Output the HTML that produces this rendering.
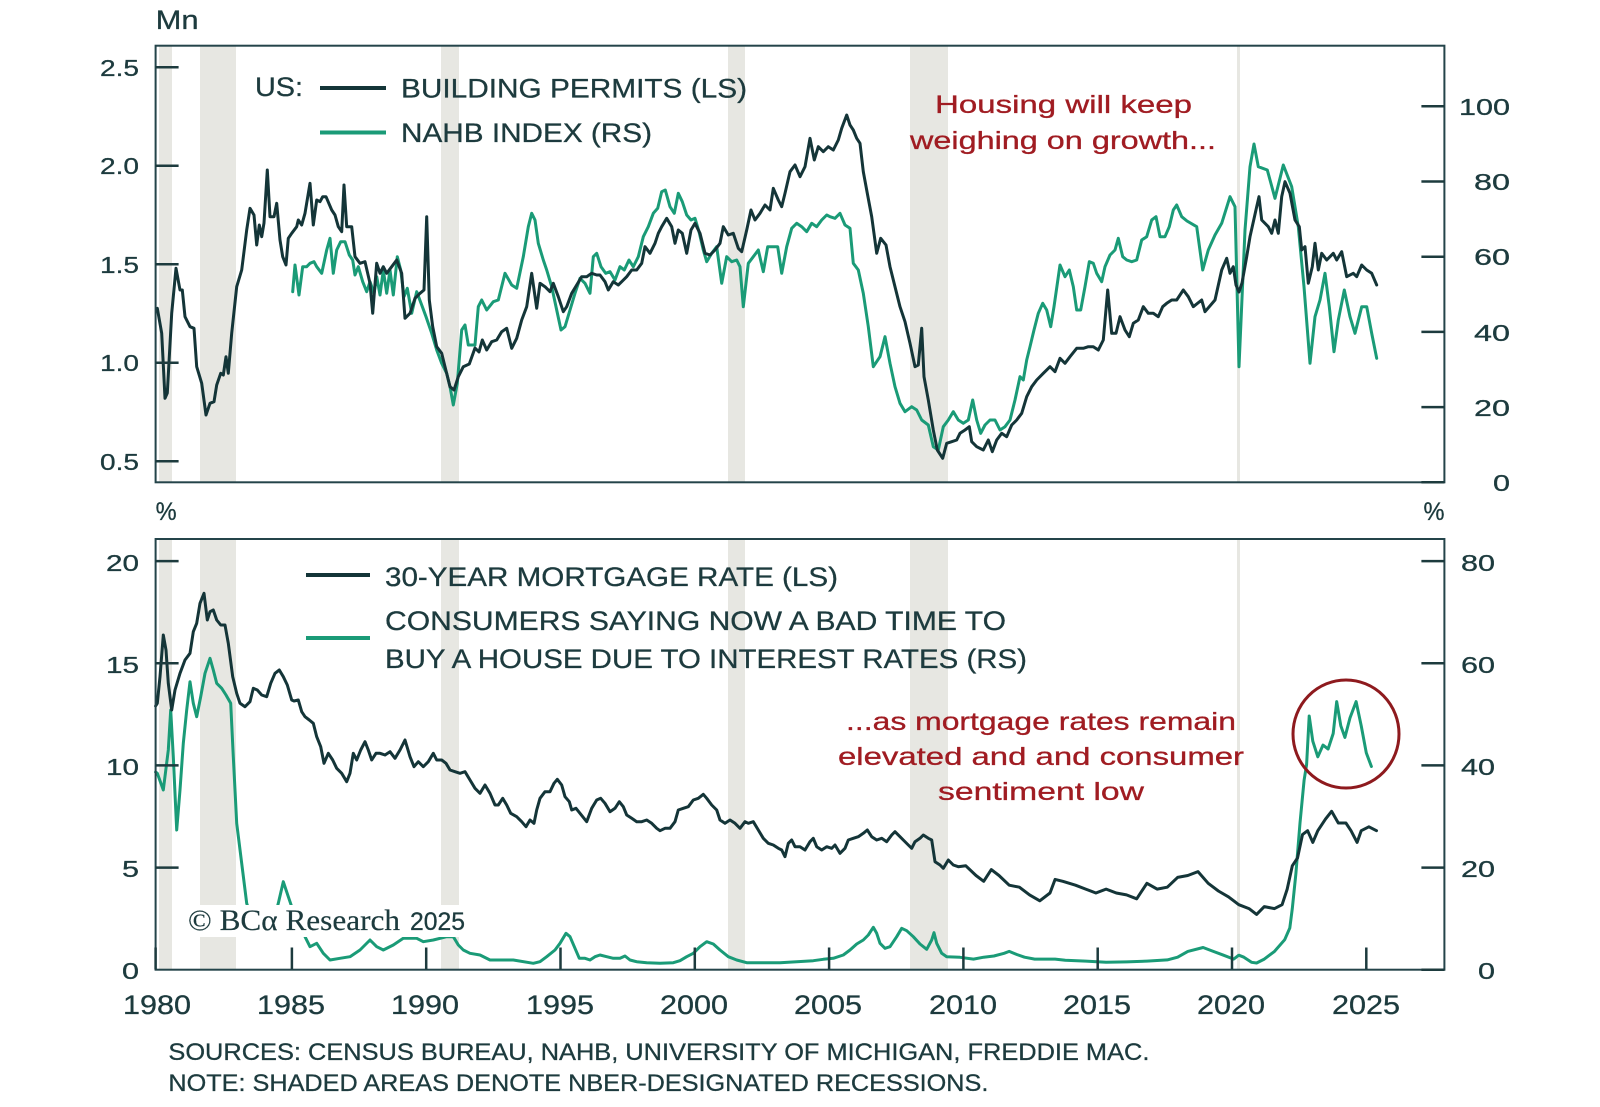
<!DOCTYPE html>
<html><head><meta charset="utf-8"><style>
html,body{margin:0;padding:0;background:#fff;}
svg{display:block;}
text{font-family:"Liberation Sans",sans-serif;fill:#1d3b3e;stroke:#1d3b3e;stroke-width:0.3;}
.r{fill:#a01c22;stroke:#a01c22;}
</style></head><body>
<svg width="1600" height="1107" viewBox="0 0 1600 1107" xmlns="http://www.w3.org/2000/svg">
<rect width="1600" height="1107" fill="#fff"/>
<!-- recession bands -->
<g fill="#e7e7e2">
<rect x="159" y="46" width="13" height="436"/><rect x="200" y="46" width="36" height="436"/><rect x="441" y="46" width="18" height="436"/><rect x="728" y="46" width="17" height="436"/><rect x="910" y="46" width="38" height="436"/><rect x="1237" y="46" width="3" height="436"/>
<rect x="159" y="539" width="13" height="431"/><rect x="200" y="539" width="36" height="431"/><rect x="441" y="539" width="18" height="431"/><rect x="728" y="539" width="17" height="431"/><rect x="910" y="539" width="38" height="431"/><rect x="1237" y="539" width="3" height="431"/>
</g>
<g fill="none" stroke-width="3" stroke-linejoin="round" stroke-linecap="round">
<!-- NAHB -->
<polyline stroke="#1a9b77" points="292.7,291.7 295,265 299,295 302.7,266.7 306.7,266.7 310,263.3 314,261.7 316.7,266.7 321.7,273.3 326.7,250 330,238.3 333.3,273.3 336.7,250 340.7,241.7 345,241.7 349.3,255 352.7,260 355,275 358.3,266.7 362.7,281.7 366.7,291.7 370,281.7 374,293.3 376.7,276.7 380,295 383.3,270 386.7,293.3 390,270 393.3,295 397.3,256.7 400.7,270 404,296.7 407.3,288.3 411.7,313.3 416.7,291.7 421.7,305 426,316.7 431.7,333.3 436.7,350 441.7,363.3 446.7,373.3 450,386.7 453.3,405 457.3,383.3 461.7,330 465,325 468.3,345 475,345 478.3,306.7 481.7,300 486.7,310 493.3,301.7 498.3,300 505,273.3 511.7,285 516.7,288.3 523.3,256.7 528.3,226.7 531.7,213.3 535,220 538.3,243.3 543.3,260 546.7,270 551.7,286.7 556.7,310 561,330 565,326.7 570,310 575,293.3 580,278.3 585,283.3 590,293.3 593.3,256.7 596.7,253.3 601,266.7 605.7,273.3 610,271.7 615,280 620,266.7 624.3,270 629,260 633.3,266.7 638.3,256.7 643.3,236.7 648.3,226.7 653.3,213.3 657.7,208.3 661.7,191.7 665.3,190 670,206.7 674.3,213.3 678.3,193.3 682.3,201.7 686.7,215 691,220 695,218.3 699,231.7 703.3,250 706.7,261.7 711.7,253.3 716.7,246.7 721.7,283.3 726.7,256.7 731.7,261.7 736.7,260 740,266.7 743.3,306.7 748.3,263.3 753.3,256.7 758.3,250 763.3,271.7 767.7,246.7 773.3,246.7 777.7,246.7 781.7,273.3 786.7,246.7 791.7,228.3 796.7,223.3 801.7,226.7 806.7,231.7 811.7,223.3 816.7,226.7 821.7,220 826.7,215 830,216.7 835,218.3 840,213.3 845,225 850,228.3 853.3,263.3 858.3,270 863.3,293.3 868.3,326.7 873.3,366.7 880,356.7 885,336.7 890,363.3 895,386.7 900,403.3 905,411.7 911.7,406.7 916.7,410 921.7,420 928.3,425 933.3,446.7 938.3,450 943.3,426.7 948.3,420 953.3,411.7 958.3,420 963.3,423.3 968.3,420 972.7,400 976.7,420 980.7,433.3 985,425 990,420 995,420 1000,430 1005,426.7 1010,420 1015,400 1020,376.7 1023.3,380 1026.7,360 1030,346.7 1034,330 1038.3,313.3 1042.7,303.3 1046.7,310 1050.7,326.7 1054,306.7 1060,265 1065,276.7 1069.3,270 1073.3,286.7 1076.7,310 1080.7,310 1085,286.7 1089.3,261.7 1093.3,263.3 1096.7,273.3 1101.7,281.7 1105,266.7 1110,255 1115,250 1118.3,238.3 1122.7,256.7 1126.7,260 1131.7,261.7 1136.7,260 1141.7,240 1146.7,236.7 1151.7,220 1156,216.7 1160,236.7 1165,236.7 1169.3,226.7 1173.3,210 1176.7,205 1181.7,216.7 1187,221 1196.7,226.7 1202.7,270 1208.3,250 1215,235 1221.7,223.3 1230,196.7 1235,206.7 1239,366.7 1245,230 1250,166.7 1254,144 1258.3,166.7 1267.3,170 1275,198.3 1283.3,165 1291.7,186.7 1298.3,226.7 1304,286.7 1310,363.3 1315,316.7 1320,300 1325,273.3 1329.3,306.7 1334,351.7 1338.3,320 1344.3,290 1350,316.7 1355,333.3 1361.7,306.7 1366.7,306.7 1371.7,333.3 1376.7,358.3"/>
<!-- Permits -->
<polyline stroke="#143538" points="157.3,308.3 161.7,333.3 165,398.3 167.3,393 171.7,313.3 176,268.3 180,290 182.3,290 185,316.7 190,326.7 194,328.3 196.7,366.7 201.7,383.3 206,415 210,403.3 214,401.7 216.7,385 220.7,373.3 223.3,375 226,356.7 228.3,373.3 231.7,333.3 236.7,286.7 241.7,270 246.7,230 250,208.3 254,215 256.7,245 259.3,225 261.7,236.7 264,223 267.3,170 270,216.7 274,216.7 276.7,203.3 280,240 282.7,256.7 286,265 288.3,238.3 291.7,233.3 296.7,226.7 298.3,220 301.7,225 305,213.3 310,183.3 313.3,225 316.7,200 320,201.7 322.7,196.7 326,196.7 331.7,210 335,215 338.3,226.7 341.7,231.7 344,185 346.7,226.7 351.7,226.7 355,256.7 360,263.3 365,261.7 370,283.3 372.7,313.3 376.7,263.3 380,273.3 383.3,266.7 386.7,273.3 391.7,266.7 396.7,260 401.7,273.3 405,318.3 410,313.3 415,298.3 420,293.3 424,290 426.7,216.7 429.3,300 432.7,326.7 436.7,346.7 441.7,353.3 445,366.7 450,386.7 454,390 458.3,376.7 463.3,366.7 469.3,364 475,348 479,352 482.3,340 486.7,350 491.7,341.7 496.7,340 501.7,331.7 506.7,328.3 511.7,348.3 516.7,338.3 521.7,320 526.7,306.7 531.7,273.3 536.7,308.3 540,283.3 545,286.7 550,291.7 553.3,283.3 558.3,296.7 563.3,311.7 566.7,306.7 571.7,293.3 576.7,285 581.7,276.7 586.7,276.7 591.7,273.3 596.7,275 600,275 605,281.7 608.3,290 613.3,281.7 618.3,285 621.7,281.7 626.7,276.7 631.7,270 636.7,270 641.7,263.3 645,246.7 650,253.3 655,243.3 658.3,233.3 661.7,226.7 666.7,218.3 671.7,226.7 675,243.3 678.3,230 682.3,233.3 686.7,253.3 691,230 695,223.3 700,233.3 705,253.3 710,255 715,250 720,243.3 723.3,226.7 728.3,235 733.3,233.3 738.3,248.3 741.7,251.7 746.7,230 751,210 755,220 760,213.3 765,205 770,210 773.3,188.3 778.3,200 781.7,206.7 785,193.3 790,171.7 795,165 800,176.7 805,166.7 810,138.3 814.3,160 818.3,146.7 823.3,151.7 828.3,146.7 833.3,150 838.3,140 841.7,128.3 846.7,115 850,125 853.3,130 856.7,138.3 860,143.3 863.3,171.7 867.3,193.3 871.7,216.7 876.7,253.3 880.7,238.3 886,245 890,266.7 895,286.7 900,306.7 905,321.7 910,343.3 915,366.7 918.3,365 921.7,328.3 924,376.7 928.3,400 933.3,430 937.3,450 942.7,458.3 946.7,443.3 951.7,441.7 956.7,440 960,433.3 965,430 969.3,426.7 971.7,441.7 976.7,446.7 983.3,450 988.3,440 992.3,451.7 996.7,440 1001.7,433.3 1006.7,436.7 1011.7,425 1016.7,420 1021.7,413.3 1026.7,396.7 1031.7,386.7 1036.7,380 1043.3,373.3 1050,366.7 1055,371.7 1060,358.3 1065,363.3 1070,356.7 1076.7,348.3 1083.3,348.3 1088.3,346.7 1093.3,346.7 1098.3,350 1103.3,340 1107.7,290 1111.7,333.3 1116,333.3 1120,316.7 1125,330 1129.3,336.7 1133.3,323.3 1138.3,320 1143.3,306.7 1148.3,313.3 1153.3,313.3 1158.3,316.7 1162.7,306.7 1166.7,303.3 1171.7,300 1176.7,300 1183.3,290 1188.3,296.7 1193.3,306.7 1201.7,300 1205,311.7 1215,300 1221.7,270 1226.7,258.3 1230,273.3 1233.3,266.7 1236,285 1239,292 1242,283 1246.7,256.7 1250,236.7 1256.7,206.7 1259,196.7 1261.7,220 1268.3,226.7 1271.7,233.3 1275,220 1278.3,233.3 1281.7,196.7 1285,181.7 1290,193.3 1295,220 1299.3,226.7 1301.7,250 1305,246.7 1308.3,283.3 1312.3,266.7 1315,243.3 1318.3,270 1321.7,253.3 1326.7,260 1333.3,253.3 1336.7,260 1341.7,251.7 1346.7,276.7 1353.3,273.3 1356.7,276.7 1361.7,265 1366.7,270 1371.7,273.3 1376.7,285"/>
<!-- Sentiment bottom -->
<polyline stroke="#1a9b77" points="155.6,772 157.3,773.3 163.3,790 168.3,750 170.7,710 173.3,756.7 176.7,830 180,790 183.3,743.3 186.7,710 190,681.7 193.3,703.3 196.7,716.7 200.7,696.7 205,673.3 210,658.3 213.3,670 216.7,683.3 221.7,688.3 226,695 230.7,703.3 233.3,756.7 236.7,823.3 241.7,863.3 246.7,903.3 250,913.3 255,925 262,932 270,928 276,912 278.3,903.3 283.3,881.7 288.3,896.7 291.7,906.7 297,925 303,932 305,936.7 310,946.7 316.7,943.3 323.3,953.3 330,960 340,958.3 350,956.7 360,950 370,940 376.7,946.7 383.3,950 393.3,945 403.3,938.3 416.7,938.3 423.3,941.7 433.3,940 446.7,936.7 453.3,936.7 458.3,945 463.3,950 470,953.3 480,955 490,960 513.3,960 533.3,963.3 540,961.7 546.7,956.7 555,950 560,943.3 566,933.3 570,936.7 575,948.3 579.3,958.3 585,958.3 590,960 595,956.7 600,955 606.7,956.7 613.3,958.3 620,958.3 625,956 630,960 636.7,961.7 646.7,962.7 660,963.3 673.3,962.7 680,960.7 686.7,956.7 693.3,953.3 700,946.7 706.7,941.7 713.3,944 720,950 728.3,956.7 736.7,960 746.7,962.7 763.3,962.7 780,962.7 796.7,961.7 813.3,960.7 823.3,959.3 833.3,958.3 843.3,955 850,950 856.7,944 863.3,940 868.3,935 873.3,927.3 876.7,933.3 880,943.3 885,948.3 890,946.7 896.7,936.7 901.7,928.3 906.7,930.7 913.3,936.7 920,944 926.7,949.3 931.7,940 934,932.7 936.7,943.3 941.7,953.3 946.7,956.7 960,957.3 973.5,959.1 983.7,957.2 993.9,956 1004.1,953.3 1009.2,951.4 1016.8,954.5 1024.5,957.2 1034.7,959.1 1055.1,959.1 1065.3,960.3 1085.7,961.1 1106.1,962.3 1126.5,961.9 1146.9,961.1 1167.3,959.9 1177.6,957.2 1187.8,951.4 1203.1,947.5 1213.3,951.4 1223.5,955.2 1233.7,959.1 1238.8,955.2 1243.9,957.2 1251.5,962.3 1256.6,963 1264.3,959.1 1274.5,951.4 1284.7,939.7 1289.8,928 1292.3,908.6 1295.9,873.5 1300,823 1304.1,780.2 1306.6,764.6 1309.2,716 1312.8,741.2 1317.8,756.8 1323,745.1 1328.1,749 1333.2,733.5 1336.7,701.6 1340.8,725.7 1344.9,737.4 1350,717.9 1356.1,701.6 1361.2,725.7 1366.3,752.9 1371.4,766.5"/>
<!-- Mortgage -->
<polyline stroke="#143538" points="155.6,706 157.3,703.3 160,676.7 163.3,635 166,650 168.3,683.3 171.7,710 175,690 180,673.3 185,660 190,653.3 193.3,631.7 196.7,623.3 200,603.3 204,593.3 207.3,620 210,611.7 213.3,610 216.7,620 220.7,625 225,625 228.3,643.3 232.7,676.7 236.7,693.3 240,703.3 245,706.7 250,701.7 253.3,688.3 257.3,690 261.7,695 266.7,696.7 270.7,683.3 275,673.3 279.3,670 283.3,676.7 287.3,685 291.7,700 294,701 298.3,700 301.7,711.7 305,716.7 309.3,720 313.3,723.3 316.7,736.7 320.7,746.7 324,763.3 328.3,753.3 332.7,760 336.7,768.3 341.7,773.3 346.7,781.7 350,773.3 353.3,753.3 356.7,760 360.7,750 365,741.7 368.3,750 371.7,760 376,753.3 380,753.3 385,755 390,751.7 395,758.3 400,750 405,740 410,756.7 414,766.7 418.3,761.7 423.3,766.7 428.3,761.7 433.3,753.3 436.7,760 441.7,760 446,763.3 450,770 455,771.7 460,773.3 465,771.7 470,780 475,788.3 480,793.3 485,785 490,793.3 495,805 498.3,805 502.7,798.3 506.7,805 510.7,813.3 516.7,816.7 521.7,821.7 526,826.7 530,820 534,823.3 536.7,810 540,798.3 545,791.7 550,791.7 554,783.3 557.3,779.3 561.7,785 565,796.7 569.3,801.7 571.7,810 576,808.3 580,813.3 586.7,821.7 591.7,808.3 596.7,800 600.7,798.3 605,803.3 610,811.7 615,808.3 619.3,801.7 623.3,806.7 626.7,815 631.7,818.3 636.7,821.7 641.7,821.7 646.7,820 651.7,823.3 656.7,828.3 660,830.7 665,828.3 670,828.3 675,821.7 678.3,810 683.3,808.3 688.3,806.7 693.3,800 698.3,798.3 703.3,794.3 706.7,798.3 711.7,805 716.7,810 720,820 725,823.3 730,820 735,823.3 740,828.3 745,821.7 748.3,823.3 753.3,821.7 758.3,830 763.3,838.3 768.3,843.3 773.3,845 778.3,848.3 781.7,850 785,856.7 788.3,843.3 791.7,840 795,846.7 800,846.7 805,850 810,841.7 813.3,838.3 816.7,846.7 821.7,850 826.7,846.7 831.7,848.3 835,845 840,853.3 845,848.3 848.3,840 853.3,838.3 858.3,836.7 863.3,833.3 867.3,830 871.7,836.7 876.7,840 881.7,838.3 886.7,841.7 891.7,835 895,831.7 900,836.7 903.3,840 908.3,845 911.7,848.3 915,841.7 920,838.3 923.3,835 928.3,838.3 931.7,840 935,861.7 940,865 943.3,868.3 948.3,860 953.3,865 958.3,866.7 965.8,865.8 976,875.5 983.7,881.3 991.3,869.6 999,875.5 1009.2,885.2 1019.4,887.2 1029.6,894.9 1039.8,900.8 1050,893 1055.1,879.4 1062.8,881.3 1075.5,885.2 1085.7,889.1 1095.9,893 1106.1,889.1 1116.3,893 1126.5,894.9 1136.7,898.8 1146.9,883.3 1157.1,889.1 1167.3,887.2 1177.6,877.4 1187.8,875.5 1198,871.6 1208.2,883.3 1218.4,891 1228.6,896.9 1238.8,904.7 1249,908.6 1256.6,914.4 1264.3,906.6 1274.5,908.6 1282.1,904.7 1287.2,889.1 1292.3,865.8 1297.5,858 1302.5,834.6 1307.6,830.7 1312.8,842.4 1317.8,830.7 1325.5,819.1 1331.6,811.3 1338.3,823 1345.9,823 1351,830.7 1357.1,842.4 1361.2,830.7 1368.9,826.8 1376.5,830.7"/>
</g>
<!-- copyright box -->
<rect x="186" y="905" width="281" height="32" fill="#fff"/>
<text x="188" y="930" font-size="30" textLength="212" lengthAdjust="spacingAndGlyphs" style="font-family:'Liberation Serif',serif;stroke-width:0.2">© BCα Research</text>
<text x="410" y="930" font-size="25" textLength="55" lengthAdjust="spacingAndGlyphs">2025</text>
<!-- frames -->
<g fill="none" stroke="#24444a" stroke-width="2">
<rect x="155.6" y="45.7" width="1288.8" height="436.6"/>
<rect x="155.6" y="539" width="1288.8" height="430.7"/>
</g>
<!-- ticks -->
<g stroke="#1d3b3e" stroke-width="2.5">
<path d="M155.6 67.3h23M155.6 165.7h23M155.6 264.3h23M155.6 362.7h23M155.6 461.3h23"/>
<path d="M1421.4 106.3h23M1421.4 181.5h23M1421.4 256.7h23M1421.4 331.9h23M1421.4 407.1h23M1421.4 482.3h23"/>
<path d="M155.6 561.1h23M155.6 663.3h23M155.6 765.4h23M155.6 867.6h23"/>
<path d="M1421.4 561.1h23M1421.4 663.3h23M1421.4 765.4h23M1421.4 867.6h23M1421.4 969.7h23"/>
<path d="M155.6 947.5v22M291.9 947.5v22M426.2 947.5v22M560.5 947.5v22M694.8 947.5v22M829.1 947.5v22M963.4 947.5v22M1097.7 947.5v22M1232 947.5v22M1366.3 947.5v22"/>
</g>
<!-- axis labels -->
<g font-size="23" text-anchor="end">
<text x="139" y="76" textLength="39" lengthAdjust="spacingAndGlyphs">2.5</text>
<text x="139" y="174" textLength="39" lengthAdjust="spacingAndGlyphs">2.0</text>
<text x="139" y="273" textLength="39" lengthAdjust="spacingAndGlyphs">1.5</text>
<text x="139" y="371" textLength="39" lengthAdjust="spacingAndGlyphs">1.0</text>
<text x="139" y="470" textLength="39" lengthAdjust="spacingAndGlyphs">0.5</text>
<text x="1510" y="115" textLength="51" lengthAdjust="spacingAndGlyphs">100</text>
<text x="1510" y="190" textLength="36" lengthAdjust="spacingAndGlyphs">80</text>
<text x="1510" y="265" textLength="36" lengthAdjust="spacingAndGlyphs">60</text>
<text x="1510" y="341" textLength="36" lengthAdjust="spacingAndGlyphs">40</text>
<text x="1510" y="416" textLength="36" lengthAdjust="spacingAndGlyphs">20</text>
<text x="1510" y="491" textLength="17" lengthAdjust="spacingAndGlyphs">0</text>
<text x="139" y="571" textLength="33" lengthAdjust="spacingAndGlyphs">20</text>
<text x="139" y="673" textLength="33" lengthAdjust="spacingAndGlyphs">15</text>
<text x="139" y="775" textLength="33" lengthAdjust="spacingAndGlyphs">10</text>
<text x="139" y="877" textLength="17" lengthAdjust="spacingAndGlyphs">5</text>
<text x="139" y="979" textLength="17" lengthAdjust="spacingAndGlyphs">0</text>
<text x="1495" y="571" textLength="34" lengthAdjust="spacingAndGlyphs">80</text>
<text x="1495" y="673" textLength="34" lengthAdjust="spacingAndGlyphs">60</text>
<text x="1495" y="775" textLength="34" lengthAdjust="spacingAndGlyphs">40</text>
<text x="1495" y="877" textLength="34" lengthAdjust="spacingAndGlyphs">20</text>
<text x="1495" y="979" textLength="17" lengthAdjust="spacingAndGlyphs">0</text>
</g>
<g font-size="27" text-anchor="middle">
<text x="157" y="1014" textLength="68" lengthAdjust="spacingAndGlyphs">1980</text>
<text x="291" y="1014" textLength="68" lengthAdjust="spacingAndGlyphs">1985</text>
<text x="425" y="1014" textLength="68" lengthAdjust="spacingAndGlyphs">1990</text>
<text x="560" y="1014" textLength="68" lengthAdjust="spacingAndGlyphs">1995</text>
<text x="694" y="1014" textLength="68" lengthAdjust="spacingAndGlyphs">2000</text>
<text x="828" y="1014" textLength="68" lengthAdjust="spacingAndGlyphs">2005</text>
<text x="963" y="1014" textLength="68" lengthAdjust="spacingAndGlyphs">2010</text>
<text x="1097" y="1014" textLength="68" lengthAdjust="spacingAndGlyphs">2015</text>
<text x="1231" y="1014" textLength="68" lengthAdjust="spacingAndGlyphs">2020</text>
<text x="1366" y="1014" textLength="68" lengthAdjust="spacingAndGlyphs">2025</text>
</g>
<text x="155.6" y="29" font-size="27" textLength="43" lengthAdjust="spacingAndGlyphs">Mn</text>
<text x="155.6" y="520" font-size="25" textLength="21" lengthAdjust="spacingAndGlyphs">%</text>
<text x="1423.5" y="520" font-size="25" textLength="21" lengthAdjust="spacingAndGlyphs">%</text>
<!-- legend top -->
<text x="255" y="96" font-size="27" textLength="48" lengthAdjust="spacingAndGlyphs">US:</text>
<line x1="320" y1="88" x2="386" y2="88" stroke="#143538" stroke-width="4"/>
<line x1="320" y1="132.5" x2="386" y2="132.5" stroke="#1a9b77" stroke-width="4"/>
<text x="401" y="97.5" font-size="27" textLength="346" lengthAdjust="spacingAndGlyphs">BUILDING PERMITS (LS)</text>
<text x="401" y="142" font-size="27" textLength="251" lengthAdjust="spacingAndGlyphs">NAHB INDEX (RS)</text>
<!-- legend bottom -->
<line x1="306" y1="575" x2="370" y2="575" stroke="#143538" stroke-width="4"/>
<line x1="306" y1="638" x2="370" y2="638" stroke="#1a9b77" stroke-width="4"/>
<text x="385" y="586" font-size="27" textLength="453" lengthAdjust="spacingAndGlyphs">30-YEAR MORTGAGE RATE (LS)</text>
<text x="385" y="630" font-size="27" textLength="621" lengthAdjust="spacingAndGlyphs">CONSUMERS SAYING NOW A BAD TIME TO</text>
<text x="385" y="668" font-size="27" textLength="642" lengthAdjust="spacingAndGlyphs">BUY A HOUSE DUE TO INTEREST RATES (RS)</text>
<!-- annotations -->
<g font-size="25" text-anchor="middle">
<text class="r" x="1063.5" y="113" textLength="257" lengthAdjust="spacingAndGlyphs">Housing will keep</text>
<text class="r" x="1063" y="149" textLength="306" lengthAdjust="spacingAndGlyphs">weighing on growth...</text>
<text class="r" x="1041" y="730" textLength="390" lengthAdjust="spacingAndGlyphs">...as mortgage rates remain</text>
<text class="r" x="1041" y="765" textLength="406" lengthAdjust="spacingAndGlyphs">elevated and and consumer</text>
<text class="r" x="1041" y="800" textLength="206" lengthAdjust="spacingAndGlyphs">sentiment low</text>
</g>
<ellipse cx="1346" cy="734" rx="53" ry="54" fill="none" stroke="#8e1a1e" stroke-width="3"/>
<!-- sources -->
<text x="168.4" y="1060" font-size="24" textLength="981" lengthAdjust="spacingAndGlyphs">SOURCES: CENSUS BUREAU, NAHB, UNIVERSITY OF MICHIGAN, FREDDIE MAC.</text>
<text x="168.4" y="1091" font-size="24" textLength="820" lengthAdjust="spacingAndGlyphs">NOTE: SHADED AREAS DENOTE NBER-DESIGNATED RECESSIONS.</text>
</svg>
</body></html>
